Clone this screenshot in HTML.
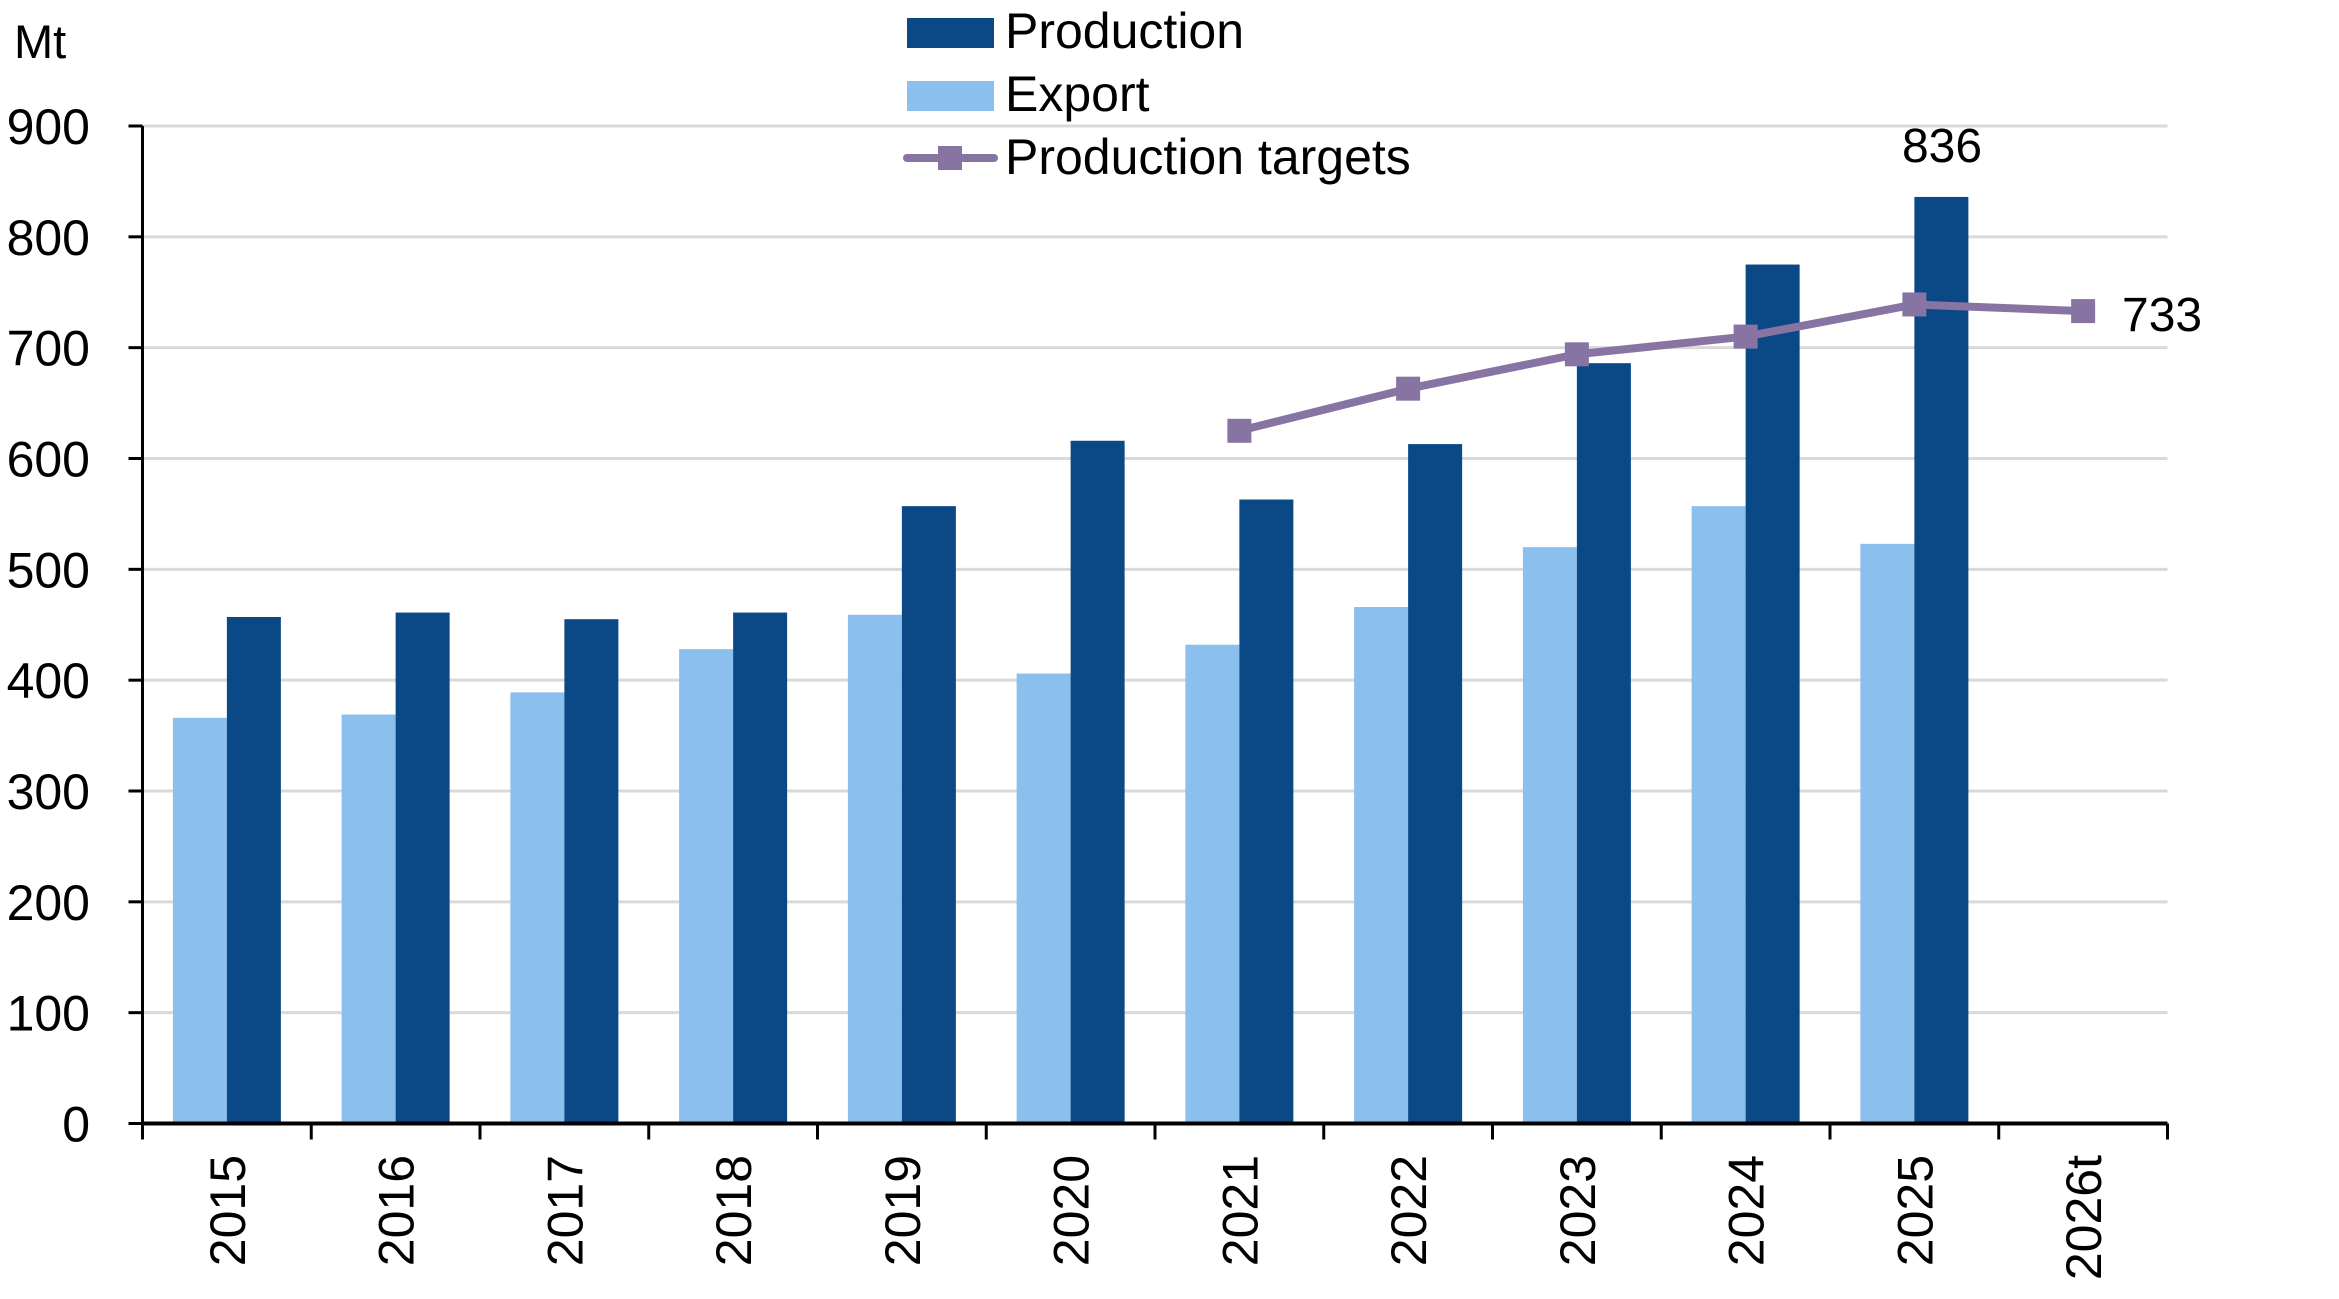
<!DOCTYPE html>
<html><head><meta charset="utf-8"><style>
html,body{margin:0;padding:0;background:#fff;}
svg{display:block;font-family:"Liberation Sans",sans-serif;}
</style></head><body>
<svg id="chart" width="2339" height="1299" viewBox="0 0 2339 1299" xmlns="http://www.w3.org/2000/svg">
<g id="grid"></g>
<g id="bars"></g>
<g id="axes"></g>
<g id="line"></g>
<text x="14" y="58" font-size="47">Mt</text>
<g>
  <rect x="907" y="18" width="87" height="30" fill="#0a4886"/>
  <text x="1005" y="48" font-size="50">Production</text>
  <rect x="907" y="81" width="87" height="30" fill="#8bbfed"/>
  <text x="1005" y="111" font-size="50">Export</text>
  <line x1="907" y1="158" x2="994" y2="158" stroke="#8874a3" stroke-width="8" stroke-linecap="round"/>
  <rect x="938" y="146" width="24" height="24" fill="#8874a3"/>
  <text x="1005" y="174" font-size="50">Production targets</text>
</g>
<text x="1942" y="162" font-size="48" text-anchor="middle">836</text>
<text x="2122" y="331" font-size="48">733</text>
</svg>
<script>
const categories = ["2015","2016","2017","2018","2019","2020","2021","2022","2023","2024","2025","2026t"];
const production = [457,461,455,461,557,616,563,613,686,775,836,null];
const exportVals = [366,369,389,428,459,406,432,466,520,557,523,null];
const targets = [null,null,null,null,null,null,625,663,694,710,739,733];
const yTicks = [0,100,200,300,400,500,600,700,800,900];

const NS="http://www.w3.org/2000/svg";
const X0=142.5, X1=2167.5, Y0=1123.5, Y900=126;
const cw=(X1-X0)/categories.length, bw=54;
function y(v){return Y0-(v/900)*(Y0-Y900);}
function xc(i){return X0+(i+0.5)*cw;}
function mk(tag,attrs,parent){const e=document.createElementNS(NS,tag);for(const k in attrs)e.setAttribute(k,attrs[k]);parent.appendChild(e);return e;}
const grid=document.getElementById('grid'),bars=document.getElementById('bars'),axes=document.getElementById('axes'),line=document.getElementById('line');

yTicks.forEach(t=>{
  if(t>0){const g=mk('line',{x1:X0,x2:X1,y1:y(t),y2:y(t),stroke:'#d9d9d9','stroke-width':3},grid);
  
  }
  const tk=mk('line',{x1:X0-14,x2:X0,y1:y(t),y2:y(t),stroke:'#000','stroke-width':3},axes);
  
  
  const tl=mk('text',{x:90,y:y(t)+18,'font-size':50,'text-anchor':'end'},axes);
  tl.textContent=t;
  
  
});

categories.forEach((c,i)=>{
  if(exportVals[i]!=null){
    const r=mk('rect',{x:xc(i)-bw,y:y(exportVals[i]),width:bw,height:Y0-y(exportVals[i]),fill:'#8bbfed'},bars);
    
    
  }
  if(production[i]!=null){
    const r=mk('rect',{x:xc(i),y:y(production[i]),width:bw,height:Y0-y(production[i]),fill:'#0a4886'},bars);
    
    
  }
  const t=mk('text',{transform:`translate(${xc(i)+18},1155) rotate(-90)`,'font-size':50,'text-anchor':'end'},axes);
  t.textContent=c;
  
  
});
for(let i=0;i<=categories.length;i++){
  const tk=mk('line',{x1:X0+i*cw,x2:X0+i*cw,y1:Y0,y2:Y0+16,stroke:'#000','stroke-width':3},axes);
  
  
}
const ya=mk('line',{x1:X0,x2:X0,y1:Y900,y2:Y0,stroke:'#000','stroke-width':3},axes);


const xa=mk('line',{x1:X0,x2:X1,y1:Y0,y2:Y0,stroke:'#000','stroke-width':4},axes);



const pts=[];targets.forEach((v,i)=>{if(v!=null)pts.push([xc(i),y(v)]);});
const pl=mk('polyline',{points:pts.map(p=>p.join(',')).join(' '),fill:'none',stroke:'#8874a3','stroke-width':8,'stroke-linejoin':'round'},line);


pts.forEach(p=>{
  const m=mk('rect',{x:p[0]-12,y:p[1]-12,width:24,height:24,fill:'#8874a3'},line);
  
  
});
</script>
</body></html>
